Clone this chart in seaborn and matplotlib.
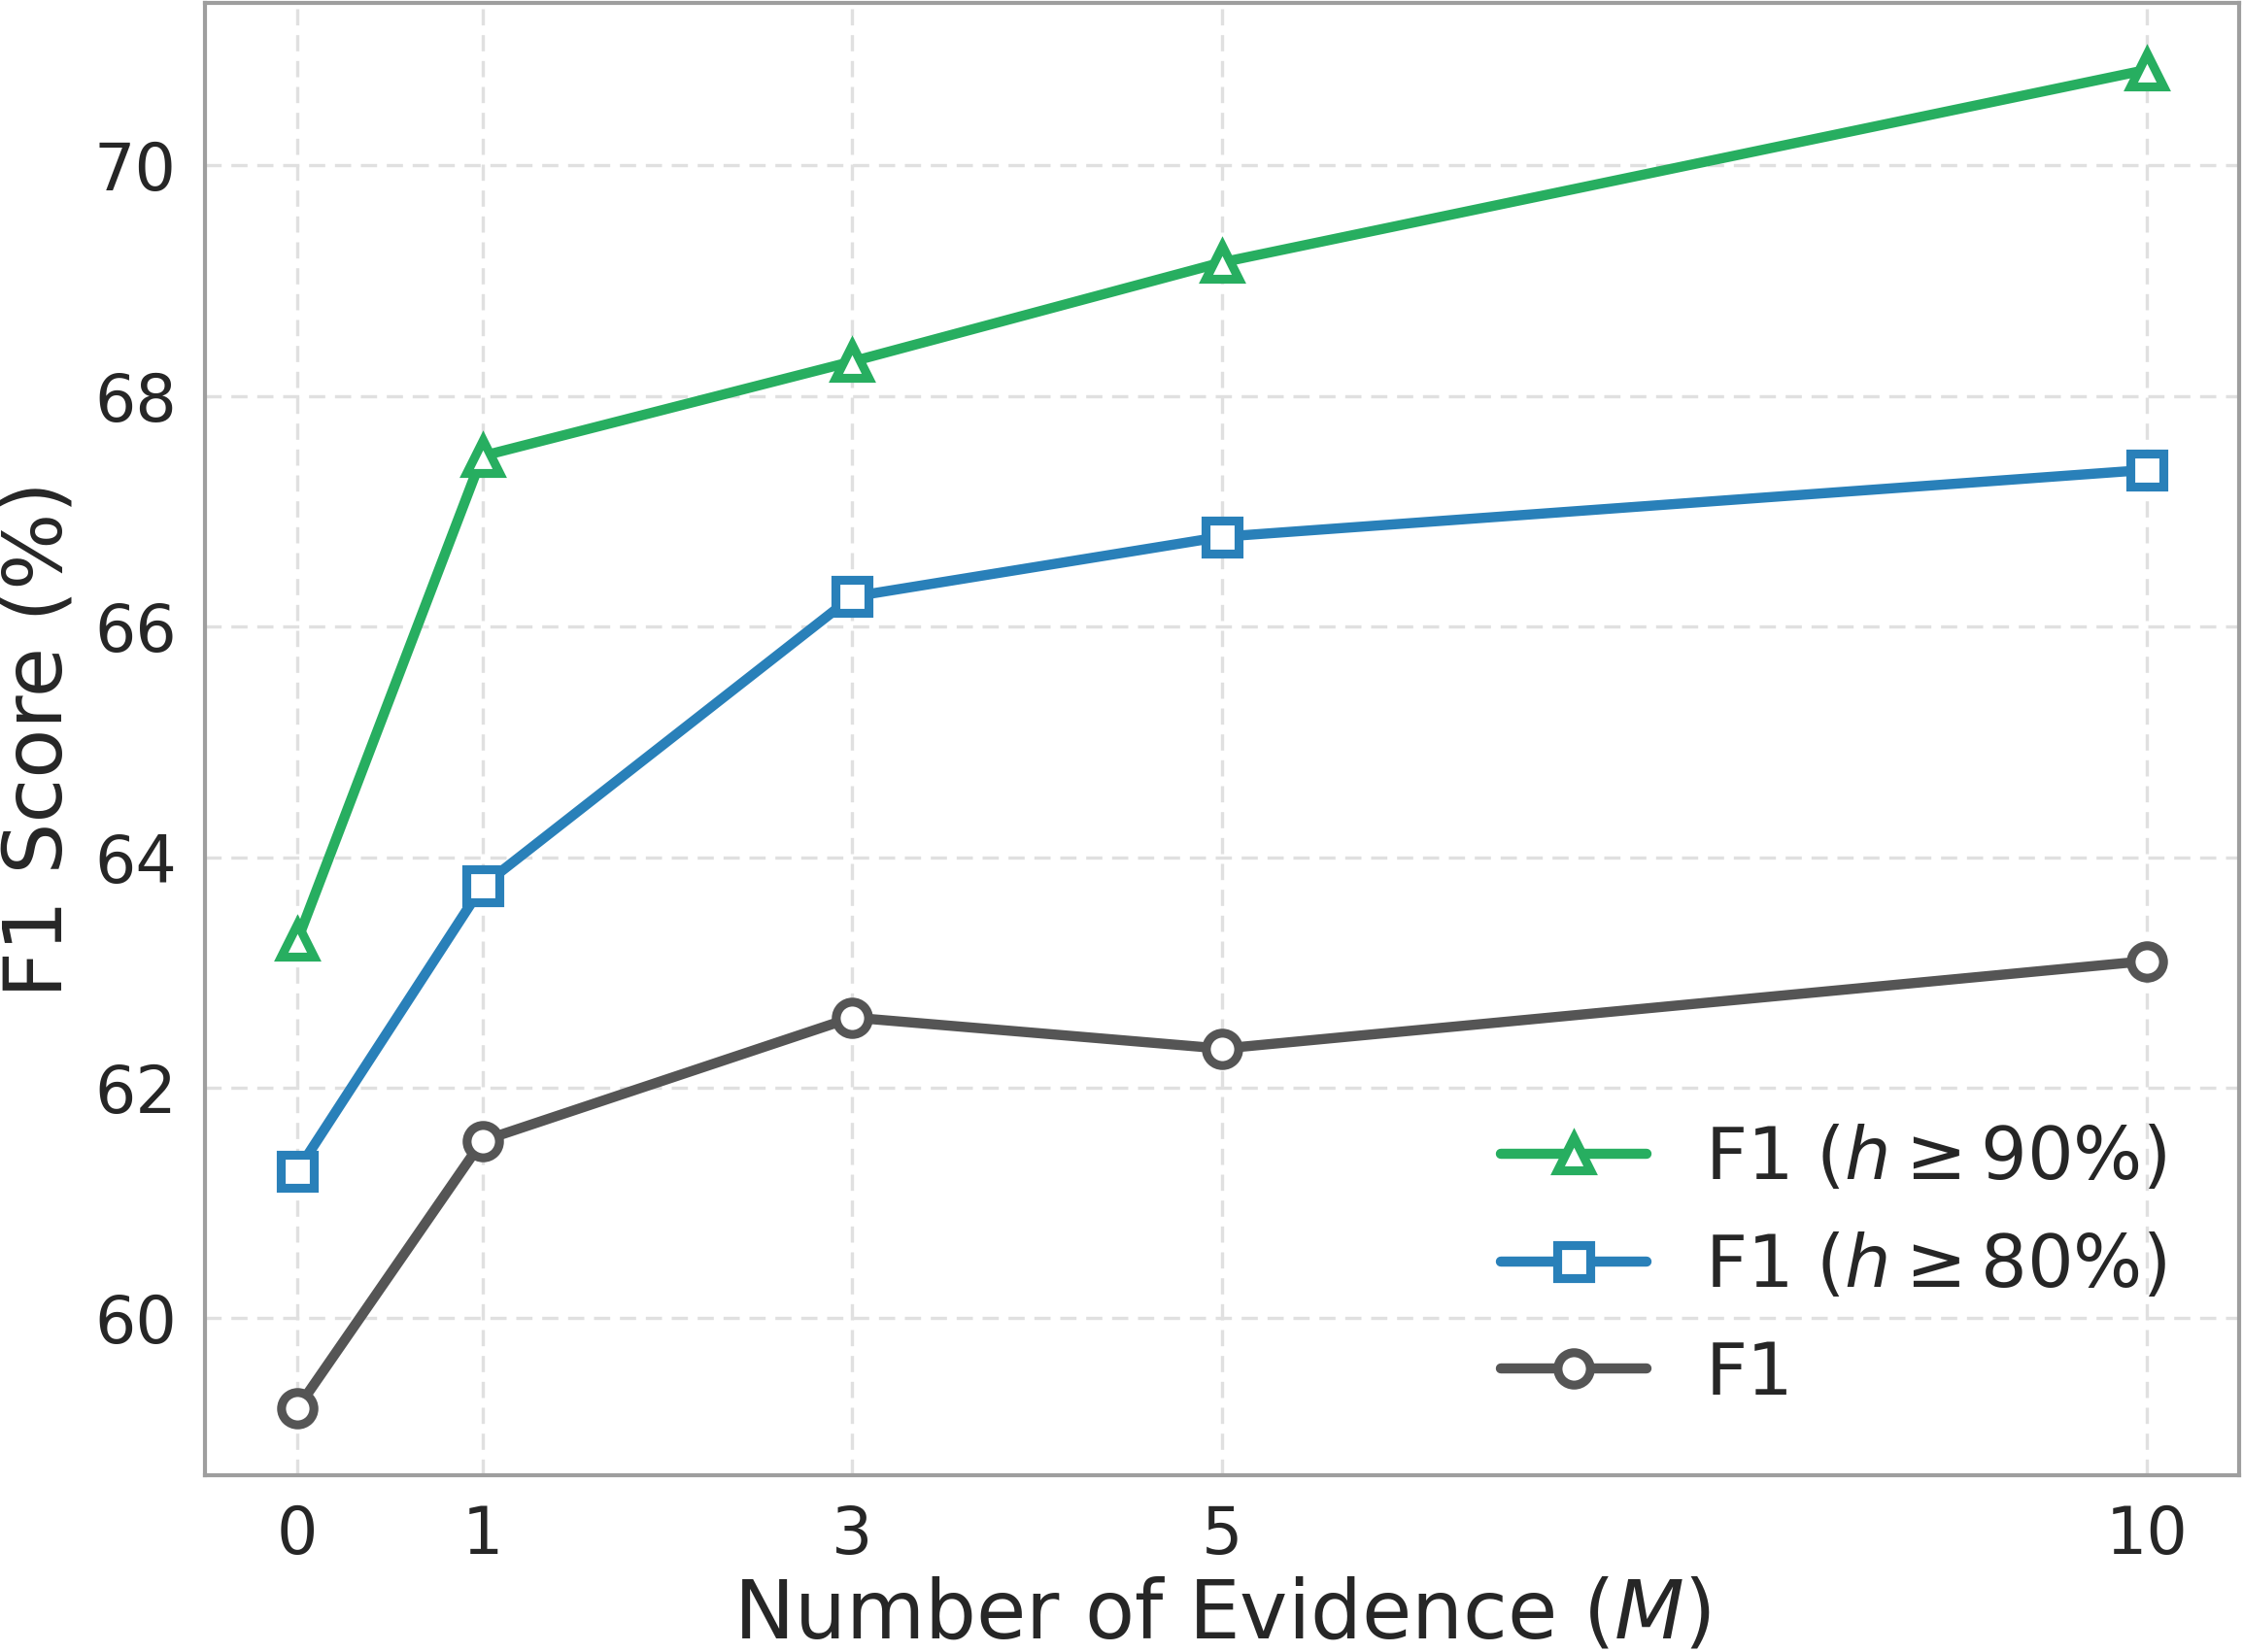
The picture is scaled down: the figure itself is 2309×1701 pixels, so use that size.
import matplotlib
matplotlib.use("Agg")
import matplotlib.pyplot as plt
import seaborn as sns
import pandas as pd

evidence = [0, 1, 3, 5, 10]
f1_h90 = [63.28, 67.48, 68.30, 69.16, 70.83]
f1_h80 = [61.28, 63.75, 66.26, 66.78, 67.36]
f1_all = [59.22, 61.54, 62.61, 62.34, 63.10]
series_labels = [r"F1 ($h \geq 90\%$)", r"F1 ($h \geq 80\%$)", "F1"]
series_colors = ["#27ae60", "#2980b9", "#555555"]
series_markers = ["^", "s", "o"]

sns.set_theme(style="whitegrid")
plt.rcParams["font.family"] = ["DejaVu Sans"]
plt.rcParams["mathtext.fontset"] = "dejavusans"

fig = plt.figure(figsize=(2309 / 300, 1701 / 300), dpi=300)
ax = fig.add_axes([211 / 2309, 1 - 1519 / 1701, (2305 - 211) / 2309, (1519 - 3) / 1701])

for vals, lab, col, mk in zip([f1_h90, f1_h80, f1_all], series_labels, series_colors, series_markers):
    df = pd.DataFrame({"M": evidence, "F1": vals})
    sns.lineplot(data=df, x="M", y="F1", ax=ax, color=col, marker=mk, markersize=8,
                 markerfacecolor="white", markeredgecolor=col, markeredgewidth=2.2,
                 linewidth=2.5, label=lab)

ax.set_xticks(evidence)
ax.set_yticks([60, 62, 64, 66, 68, 70])
ax.tick_params(axis="both", labelsize=16, colors="#262626", length=0, pad=7)
ax.set_xlabel(r"Number of Evidence ($M$)", fontsize=20, color="#262626", labelpad=2)
ax.set_ylabel("F1 Score (%)", fontsize=20, color="#262626", labelpad=4)

ax.grid(True, linestyle=(0, (5, 3)), color="#e0e0e0", linewidth=0.8)
for sp in ax.spines.values():
    sp.set_color("#9e9e9e")
    sp.set_linewidth(1.0)

leg = ax.legend(loc="lower right", bbox_to_anchor=(0.9965, 0.0), fontsize=18,
                frameon=False, handlelength=2.0)

fig.savefig("out.png", dpi=300)
